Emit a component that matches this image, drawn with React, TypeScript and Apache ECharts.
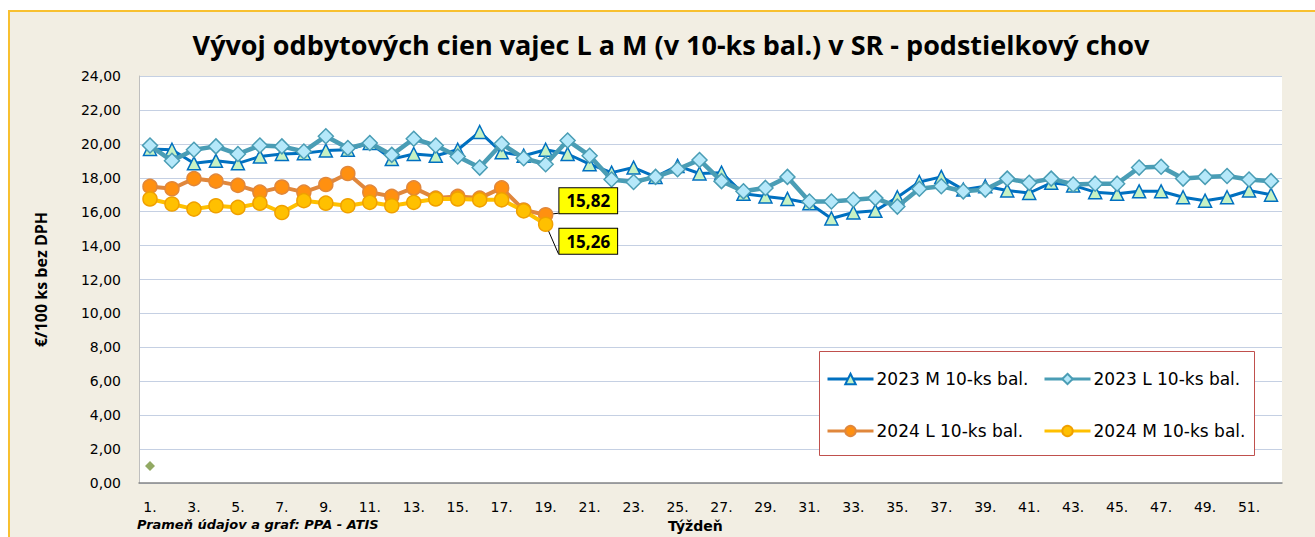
import React, { useEffect, useRef } from "react";
import * as echarts from "echarts";

const weeks: string[] = Array.from({ length: 52 }, (_, i) => `${i + 1}.`);

const m2023: number[] = [
  19.7, 19.65, 18.85, 19.0, 18.85, 19.25, 19.4, 19.45, 19.6, 19.65,
  20.05, 19.1, 19.4, 19.3, 19.65, 20.7, 19.5, 19.3, 19.65, 19.4,
  18.8, 18.3, 18.6, 18.05, 18.7, 18.25, 18.3, 17.05, 16.9, 16.75,
  16.5, 15.6, 15.95, 16.05, 16.85, 17.75, 18.05, 17.3, 17.5, 17.25,
  17.1, 17.7, 17.55, 17.15, 17.05, 17.2, 17.2, 16.85, 16.65, 16.85,
  17.25, 17.0,
];

const l2023: number[] = [
  19.9, 19.0, 19.65, 19.85, 19.4, 19.9, 19.85, 19.55, 20.45, 19.75,
  20.05, 19.35, 20.3, 19.9, 19.25, 18.6, 20.0, 19.15, 18.8, 20.2,
  19.3, 17.9, 17.75, 18.05, 18.5, 19.05, 17.8, 17.2, 17.4, 18.05,
  16.6, 16.6, 16.7, 16.8, 16.3, 17.35, 17.5, 17.2, 17.3, 17.95,
  17.7, 17.95, 17.6, 17.65, 17.65, 18.6, 18.65, 17.95, 18.05, 18.1,
  17.9, 17.8,
];

const l2024: number[] = [
  17.49, 17.35, 17.95, 17.8, 17.55, 17.15, 17.45, 17.15, 17.6, 18.25,
  17.15, 16.9, 17.4, 16.8, 16.9, 16.8, 17.4, 16.1, 15.82,
];

const m2024: number[] = [
  16.75, 16.45, 16.15, 16.35, 16.25, 16.5, 15.95, 16.65, 16.5, 16.35,
  16.55, 16.35, 16.55, 16.75, 16.75, 16.7, 16.7, 16.05, 15.26,
];

const extraSeries: number[] = [1.0];

const yTicks = { min: 0, max: 24, interval: 2 };

const fmt = (v: number) => v.toFixed(2).replace(".", ",");

function withLastLabel(values: number[], offset: number[]) {
  return values.map((v, i) =>
    i === values.length - 1
      ? {
          value: v,
          label: {
            show: true,
            position: "right",
            distance: 5,
            offset,
            formatter: (p: any) => fmt(p.value),
            backgroundColor: "#FFFF00",
            borderColor: "#000",
            borderWidth: 1,
            padding: [5, 7, 3, 7],
            color: "#000",
            fontFamily: "Open Sans",
            fontWeight: "bold",
            fontSize: 17,
          },
        }
      : v
  );
}

export default function App() {
  const ref = useRef<HTMLDivElement>(null);

  useEffect(() => {
    if (!ref.current) return;
    const chart = echarts.init(ref.current, null, { renderer: "svg" });
    const legendText = {
      fontFamily: "DejaVu Sans",
      fontSize: 17,
      color: "#000",
      lineHeight: 20,
      padding: [0, 0, 0, -2],
    };
    const legendBase = {
      top: 364,
      orient: "vertical",
      itemWidth: 46,
      itemHeight: 13,
      itemGap: 32,
      textStyle: legendText,
      lineStyle: { width: 3 },
      z: 5,
    };
    chart.setOption({
      animation: false,
      backgroundColor: "transparent",
      textStyle: { fontFamily: "DejaVu Sans" },
      title: {
        text: "Vývoj odbytových cien vajec L a M (v 10-ks bal.) v SR - podstielkový chov",
        left: 666,
        top: 26,
        textAlign: "center",
        textStyle: {
          fontFamily: "Open Sans",
          fontWeight: "bold",
          fontSize: 27,
          color: "#000",
        },
      },
      grid: {
        left: 139,
        top: 76,
        right: 33,
        bottom: 54,
        show: true,
        backgroundColor: "#FFFFFF",
        borderWidth: 0,
      },
      xAxis: {
        type: "category",
        data: weeks,
        boundaryGap: true,
        axisLine: { show: true, lineStyle: { color: "#868686", width: 1.5 } },
        axisTick: { show: false },
        axisLabel: {
          interval: 1,
          margin: 17,
          fontSize: 14,
          color: "#000",
          fontFamily: "DejaVu Sans",
        },
        splitLine: { show: false },
      },
      yAxis: {
        type: "value",
        min: yTicks.min,
        max: yTicks.max,
        interval: yTicks.interval,
        name: "€/100 ks bez DPH",
        nameLocation: "middle",
        nameGap: 90,
        nameRotate: 90,
        nameTextStyle: {
          fontFamily: "Open Sans",
          fontWeight: "bold",
          fontSize: 16,
          color: "#000",
        },
        axisLine: { show: true, lineStyle: { color: "#BFBFBF", width: 1 } },
        axisTick: { show: false },
        axisLabel: {
          margin: 18,
          fontSize: 14,
          color: "#000",
          fontFamily: "DejaVu Sans",
          formatter: (v: number) => fmt(v),
        },
        splitLine: { show: true, lineStyle: { color: "#C5D0E3", width: 1 } },
      },
      legend: [
        {
          ...legendBase,
          left: 821,
          data: ["2023 M 10-ks bal.", "2024 L 10-ks bal."],
        },
        {
          ...legendBase,
          left: 1038,
          data: ["2023 L 10-ks bal.", "2024 M 10-ks bal."],
        },
      ],
      graphic: [
        {
          type: "rect",
          z: 4,
          shape: { x: 819.5, y: 351.5, width: 435, height: 104 },
          style: { fill: "#FFFFFF", stroke: "#C0504D", lineWidth: 1 },
        },
        {
          type: "text",
          left: 668,
          top: 519,
          style: {
            text: "Týždeň",
            font: "bold 14px 'DejaVu Sans'",
            fill: "#000",
          },
        },
        {
          type: "text",
          left: 137,
          top: 518,
          style: {
            text: "Prameň údajov a graf: PPA - ATIS",
            font: "italic bold 13px 'DejaVu Sans'",
            fill: "#000",
          },
        },
      ],
      series: [
        {
          name: "2023 M 10-ks bal.",
          type: "line",
          data: m2023,
          symbol: "triangle",
          symbolSize: 13,
          showAllSymbol: true,
          lineStyle: { color: "#0070C0", width: 3 },
          itemStyle: { color: "#C6F2C4", borderColor: "#0070C0", borderWidth: 1.5 },
          z: 2,
        },
        {
          name: "2023 L 10-ks bal.",
          type: "line",
          data: l2023,
          symbol: "diamond",
          symbolSize: 15,
          showAllSymbol: true,
          lineStyle: { color: "#4A9DB5", width: 4.5 },
          itemStyle: { color: "#B5E8FA", borderColor: "#4A9DB5", borderWidth: 1.5 },
          z: 3,
        },
        {
          name: "2024 L 10-ks bal.",
          type: "line",
          data: withLastLabel(l2024, [1, -14]),
          symbol: "circle",
          symbolSize: 14,
          showAllSymbol: true,
          lineStyle: { color: "#E0873C", width: 4 },
          itemStyle: { color: "#FF9010", borderColor: "#E0873C", borderWidth: 1.5 },
          labelLine: { show: true, lineStyle: { color: "#000", width: 1 } },
          z: 4,
        },
        {
          name: "2024 M 10-ks bal.",
          type: "line",
          data: withLastLabel(m2024, [1, 17]),
          symbol: "circle",
          symbolSize: 14,
          showAllSymbol: true,
          lineStyle: { color: "#FFC000", width: 4 },
          itemStyle: { color: "#FFC000", borderColor: "#F0A000", borderWidth: 1.5 },
          labelLine: { show: true, lineStyle: { color: "#000", width: 1 } },
          z: 5,
        },
        {
          name: "extra",
          type: "scatter",
          data: extraSeries.map((v, i) => [i, v]),
          symbol: "diamond",
          symbolSize: 10,
          itemStyle: { color: "#77933C" },
          z: 2,
        },
      ],
    });
    return () => chart.dispose();
  }, []);

  return (
    <div style={{ position: "absolute", left: 0, top: 0, width: 1315, height: 537, background: "#FFFFFF", overflow: "hidden" }}>
      <div
        style={{
          position: "absolute",
          left: 8,
          top: 10,
          width: 1320,
          height: 540,
          background: "#F2EEE3",
          borderTop: "2px solid #F8C030",
          borderLeft: "2px solid #F8C030",
        }}
      />
      <div ref={ref} style={{ position: "absolute", left: 0, top: 0, width: 1315, height: 537 }} />
    </div>
  );
}
